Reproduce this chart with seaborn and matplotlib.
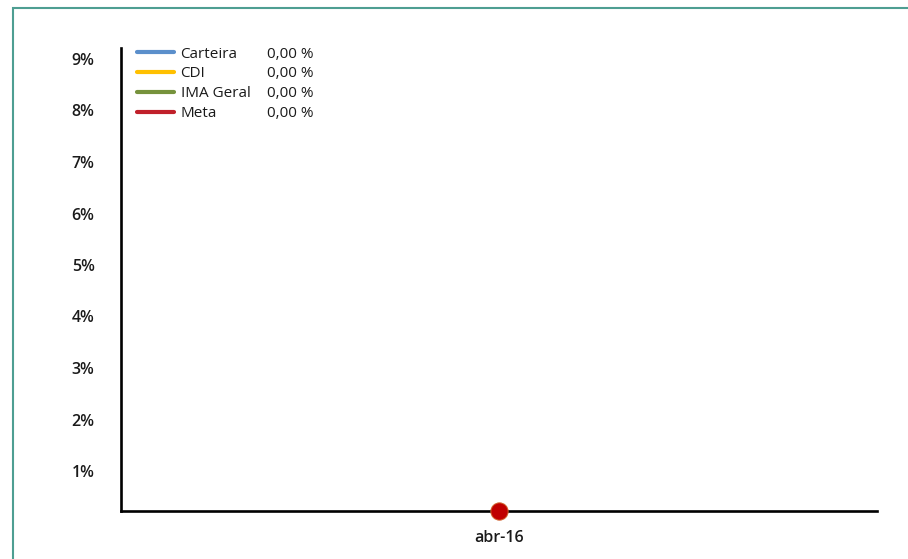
import numpy as np
import pandas as pd
import matplotlib
matplotlib.use("Agg")
import matplotlib.pyplot as plt
import matplotlib.transforms as mtransforms
from matplotlib.lines import Line2D
from matplotlib.patches import Rectangle
import seaborn as sns

# =============================================================================
# DATA
# =============================================================================
MONTHS = ['abr-16']
SERIES = ['Carteira', 'CDI', 'IMA Geral', 'Meta']
CARTEIRA = [0.0]
CDI = [0.0]
IMA_GERAL = [0.0]
META = [0.0]
Y_TICKS = [1, 2, 3, 4, 5, 6, 7, 8, 9]

COLORS = {'Carteira': '#5B8FCB', 'CDI': '#FFC000', 'IMA Geral': '#76923C', 'Meta': '#C0202A'}

# =============================================================================
# PLOT
# =============================================================================
sns.set_theme(style="white")
plt.rcParams['font.family'] = ['Open Sans', 'DejaVu Sans']

W, H = 908, 559
fig = plt.figure(figsize=(W / 100, H / 100), dpi=100)
ax = fig.add_axes([121 / W, 1 - 511 / H, (877 - 121) / W, (511 - 47.5) / H])

df = pd.DataFrame({
    'Mes': MONTHS * 4,
    'Serie': np.repeat(SERIES, len(MONTHS)),
    'Valor': CARTEIRA + CDI + IMA_GERAL + META,
})

for name in SERIES:
    sub = df[df['Serie'] == name]
    sns.lineplot(data=sub, x='Mes', y='Valor', color=COLORS[name], linewidth=3,
                 ax=ax, legend=False)

# Meta point
meta_df = df[df['Serie'] == 'Meta']
sns.scatterplot(data=meta_df, x='Mes', y='Valor', color='#C00000', s=155,
                edgecolor='#D0602A', linewidth=0.7, ax=ax, legend=False,
                zorder=5, clip_on=False)

ax.set_xlim(-0.5, 0.5)
ax.set_ylim(0, 9)
ax.set_yticks(Y_TICKS)
ax.set_yticklabels([f"{v}%" for v in Y_TICKS])
ax.set_xlabel("")
ax.set_ylabel("")

for side in ['top', 'right']:
    ax.spines[side].set_visible(False)
for side in ['left', 'bottom']:
    ax.spines[side].set_color('black')
    ax.spines[side].set_linewidth(1.9)

ax.tick_params(axis='y', length=0, pad=19, labelsize=11.5, labelcolor='#1a1a1a')
ax.tick_params(axis='x', length=0, pad=13.5, labelsize=11.5, labelcolor='#1a1a1a')
for lbl in ax.get_yticklabels() + ax.get_xticklabels():
    lbl.set_fontweight('semibold')

# labels sit slightly below their gridline value
offset = mtransforms.ScaledTranslation(0, -11.5 / 100, fig.dpi_scale_trans)
for lbl in ax.get_yticklabels():
    lbl.set_transform(lbl.get_transform() + offset)

# Legend
handles = [Line2D([0], [0], color=COLORS[n], linewidth=3) for n in SERIES]
leg = ax.legend(handles, SERIES, loc='upper left',
                bbox_to_anchor=(137 / W, 1 - 46.5 / H), bbox_transform=fig.transFigure,
                frameon=False, fontsize=11, borderpad=0, borderaxespad=0,
                handlelength=2.4, handletextpad=0.45, labelspacing=0.32)
for t in leg.get_texts():
    t.set_color('#1a1a1a')

# values next to legend entries
values = [CARTEIRA[-1], CDI[-1], IMA_GERAL[-1], META[-1]]
fig.canvas.draw()
for t, v in zip(leg.get_texts(), values):
    bb = t.get_window_extent()
    yc = (bb.y0 + bb.y1) / 2
    fig.text(267 / W, yc / H, f"{v:.2f}".replace('.', ',') + " %", ha='left',
             va='center', fontsize=11, color='#1a1a1a')

# teal frame
fig.patches.append(Rectangle((12.5 / W, -0.1), 1.2, 1 - 8 / H + 0.1,
                             transform=fig.transFigure, fill=False,
                             edgecolor='#4E9E92', linewidth=1.5))

fig.savefig("out.png", dpi=100)
